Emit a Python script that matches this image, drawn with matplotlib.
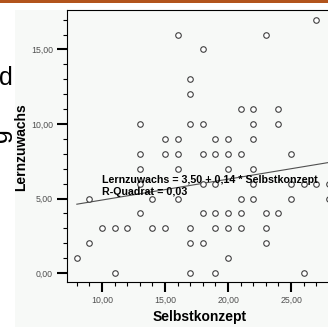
import numpy as np
import matplotlib
matplotlib.use('Agg')
import matplotlib.pyplot as plt
from matplotlib.ticker import MultipleLocator, FuncFormatter
from matplotlib.patches import Rectangle

selbstkonzept = [11, 17, 19, 26,
                 8, 20,
                 9, 17, 18, 23,
                 10, 11, 12, 14, 15, 17, 19, 20, 21, 23,
                 13, 18, 19, 20, 21, 23, 24,
                 9, 14, 16, 21, 22, 25, 28,
                 13, 18, 19, 22, 25, 26, 27, 28,
                 13, 16, 20, 22,
                 13, 15, 16, 18, 19, 20, 21, 25,
                 15, 16, 19, 20, 22,
                 13, 17, 18, 22, 24,
                 21, 22, 24,
                 17, 17, 18, 16, 23, 27]
lernzuwachs = [0, 0, 0, 0,
               1, 1,
               2, 2, 2, 2,
               3, 3, 3, 3, 3, 3, 3, 3, 3, 3,
               4, 4, 4, 4, 4, 4, 4,
               5, 5, 5, 5, 5, 5, 5,
               6, 6, 6, 6, 6, 6, 6, 6,
               7, 7, 7, 7,
               8, 8, 8, 8, 8, 8, 8, 8,
               9, 9, 9, 9, 9,
               10, 10, 10, 10, 10,
               11, 11, 11,
               12, 13, 15, 16, 16, 17]

konstante = 3.50
steigung = 0.14
r_quadrat = 0.03

W, H = 328, 327
fig = plt.figure(figsize=(W / 100, H / 100), dpi=100)
fig.patch.set_facecolor('white')

# leicht getönter Hintergrund des SPSS-Diagramms
fig.patches.append(Rectangle((15 / W, 0), 1, 1 - 10 / H, transform=fig.transFigure,
                             facecolor='#F7F9F7', edgecolor='none', zorder=-2))
# oranger Balken oben (Folie)
fig.patches.append(Rectangle((0, 1 - 3 / H), 1, 3 / H, transform=fig.transFigure,
                             facecolor='#B2541C', edgecolor='none', zorder=-1))

ax = fig.add_axes([67 / W, 1 - 282 / H, (332 - 67) / W, (282 - 10) / H])
ax.set_facecolor('#F7F9F7')

ax.plot(selbstkonzept, lernzuwachs, 'o', ms=4.0, mfc='white', mec='#404040', mew=0.8,
        zorder=3, clip_on=False)

xs = np.array([min(selbstkonzept), max(selbstkonzept)])
ax.plot(xs, konstante + steigung * xs, color='#505050', lw=0.8, zorder=2, clip_on=False)

ax.text(10, 6.06, 'Lernzuwachs = 3,50 + 0,14 * Selbstkonzept', family='Liberation Sans',
        fontweight='bold', fontsize=7.7, va='baseline', ha='left', zorder=4)
ax.text(10, 5.23, 'R-Quadrat = %s' % ('%.2f' % r_quadrat).replace('.', ','),
        family='Liberation Sans', fontweight='bold', fontsize=7.7,
        va='baseline', ha='left', zorder=4)

ax.set_xlim(7.22, 28.25)
ax.set_ylim(-0.6, 17.65)

fmt = FuncFormatter(lambda v, p: ('%.2f' % v).replace('.', ','))
ax.xaxis.set_major_locator(MultipleLocator(5))
ax.xaxis.set_minor_locator(MultipleLocator(1))
ax.yaxis.set_major_locator(MultipleLocator(5))
ax.yaxis.set_minor_locator(MultipleLocator(1))
ax.xaxis.set_major_formatter(fmt)
ax.yaxis.set_major_formatter(fmt)

ax.tick_params(which='major', length=7.2, width=1.5, color='black', pad=3,
               labelsize=6.3, labelcolor='#505050')
ax.tick_params(which='minor', length=2.9, width=0.8, color='black')
for lab in ax.get_xticklabels() + ax.get_yticklabels():
    lab.set_family('Liberation Sans')

for s in ax.spines.values():
    s.set_linewidth(0.8)
    s.set_color('black')

fig.text(199.5 / W, 1 - 321 / H, 'Selbstkonzept', family='Liberation Sans',
         fontweight='bold', fontsize=10, ha='center', va='baseline')
fig.text(21.5 / W, 1 - 147.5 / H, 'Lernzuwachs', family='Liberation Sans',
         fontweight='bold', fontsize=10, ha='center', va='center', rotation=90)

# angeschnittener Folientext links
fig.text(-1 / W, 1 - 85 / H, 'd', family='Liberation Sans', fontsize=18,
         ha='left', va='baseline')
fig.text(-12 / W, 1 - 135 / H, 'g', family='Liberation Sans', fontsize=18,
         ha='left', va='center', rotation=90)

fig.savefig('out.png', dpi=100)
